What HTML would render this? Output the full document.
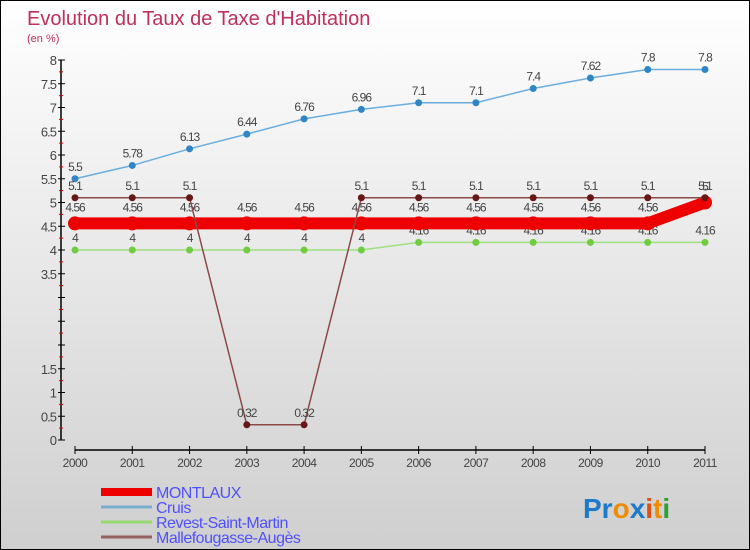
<!DOCTYPE html>
<html><head><meta charset="utf-8"><style>
body{margin:0;}
#c{width:748px;height:548px;border:1px solid #000;background:linear-gradient(#ffffff,#cfcfcf);position:relative;overflow:hidden;font-family:"Liberation Sans",sans-serif;}
svg text{font-family:"Liberation Sans",sans-serif;}
</style></head><body>
<div id="c">
<svg id="s" width="748" height="548">
<text x="26" y="24" font-size="20" fill="#c0305a">Evolution du Taux de Taxe d'Habitation</text>
<text x="26" y="41" font-size="11" fill="#c0305a">(en %)</text>
<g id="g"></g>
<text x="582" y="517" font-size="28" font-weight="bold"><tspan fill="#1e7ac8">Pr</tspan><tspan fill="#f08c00">o</tspan><tspan fill="#1e7ac8">x</tspan><tspan fill="#e05010">i</tspan><tspan fill="#f08c00">t</tspan><tspan fill="#30a030">i</tspan></text>
</svg></div>
<script>
const years=[2000,2001,2002,2003,2004,2005,2006,2007,2008,2009,2010,2011];
const montlaux=[4.56,4.56,4.56,4.56,4.56,4.56,4.56,4.56,4.56,4.56,4.56,5];
const cruis=[5.5,5.78,6.13,6.44,6.76,6.96,7.1,7.1,7.4,7.62,7.8,7.8];
const revest=[4,4,4,4,4,4,4.16,4.16,4.16,4.16,4.16,4.16];
const malle=[5.1,5.1,5.1,0.32,0.32,5.1,5.1,5.1,5.1,5.1,5.1,5.1];
const yTickLabels=[0,0.5,1,1.5,3.5,4,4.5,5,5.5,6,6.5,7,7.5,8];
const NS="http://www.w3.org/2000/svg";
const g=document.getElementById('g');
const X=i=>74+i*(630/(years.length-1));
const Y=v=>439-v*47.5;
function mk(t,a){const e=document.createElementNS(NS,t);for(const k in a)e.setAttribute(k,a[k]);g.appendChild(e);return e;}
let e=mk('line',{x1:60,y1:Y(8),x2:60,y2:Y(0),stroke:'#000','stroke-width':1.5});


e=mk('line',{x1:X(0),y1:449,x2:X(11),y2:449,stroke:'#000','stroke-width':1.5});


for(let v=0;v<=8;v+=0.5){mk('line',{x1:57,y1:Y(v),x2:64,y2:Y(v),stroke:'#000'});if(v<8)mk('line',{x1:58,y1:Y(v+0.25),x2:62,y2:Y(v+0.25),stroke:'#e00000'});}
yTickLabels.forEach(v=>{const t=mk('text',{x:55,y:Y(v)+5,'font-size':13,fill:'#444','text-anchor':'end','letter-spacing':'-1'});t.textContent=v;

});
years.forEach((yr,i)=>{mk('line',{x1:X(i),y1:445,x2:X(i),y2:453,stroke:'#000'});const t=mk('text',{x:X(i),y:466,'font-size':12,fill:'#444','text-anchor':'middle','letter-spacing':'-0.5'});t.textContent=yr;

});
function series(d,col,w,r,mcol,name,lblDy){
 const p=mk('polyline',{points:d.map((v,i)=>X(i)+','+Y(v)).join(' '),fill:'none',stroke:col,'stroke-width':w,'stroke-linejoin':'round'});
 
 
 d.forEach((v,i)=>{const c=mk('circle',{cx:X(i),cy:Y(v),r:r,fill:mcol});
 
 
 const t=mk('text',{x:X(i),y:Y(v)+lblDy,'font-size':12,fill:'#444','text-anchor':'middle','letter-spacing':'-1'});t.textContent=v;
 
 });
}
series(cruis,'#6aaee0',1.5,3.5,'#2f86c6','cruis',-8);
series(revest,'#9ee080',1.5,3.5,'#70cc40','revest',-8);
series(montlaux,'#ee0000',12,7,'#ee0000','montlaux',-12);
series(malle,'#8a4a4a',1.5,3.5,'#661818','mallefougasse',-8);
const leg=[['MONTLAUX','#ee0000',8],['Cruis','#7aaed0',3],['Revest-Saint-Martin','#98d870',3],['Mallefougasse-Augès','#956060',3]];
leg.forEach((l,i)=>{const y=491+i*15;mk('line',{x1:100,y1:y,x2:151,y2:y,stroke:l[1],'stroke-width':l[2]});
const t=mk('text',{x:155,y:y+6,'font-size':16,fill:'#5050ff','letter-spacing':'-0.5'});t.textContent=l[0];

});
</script>
</body></html>
